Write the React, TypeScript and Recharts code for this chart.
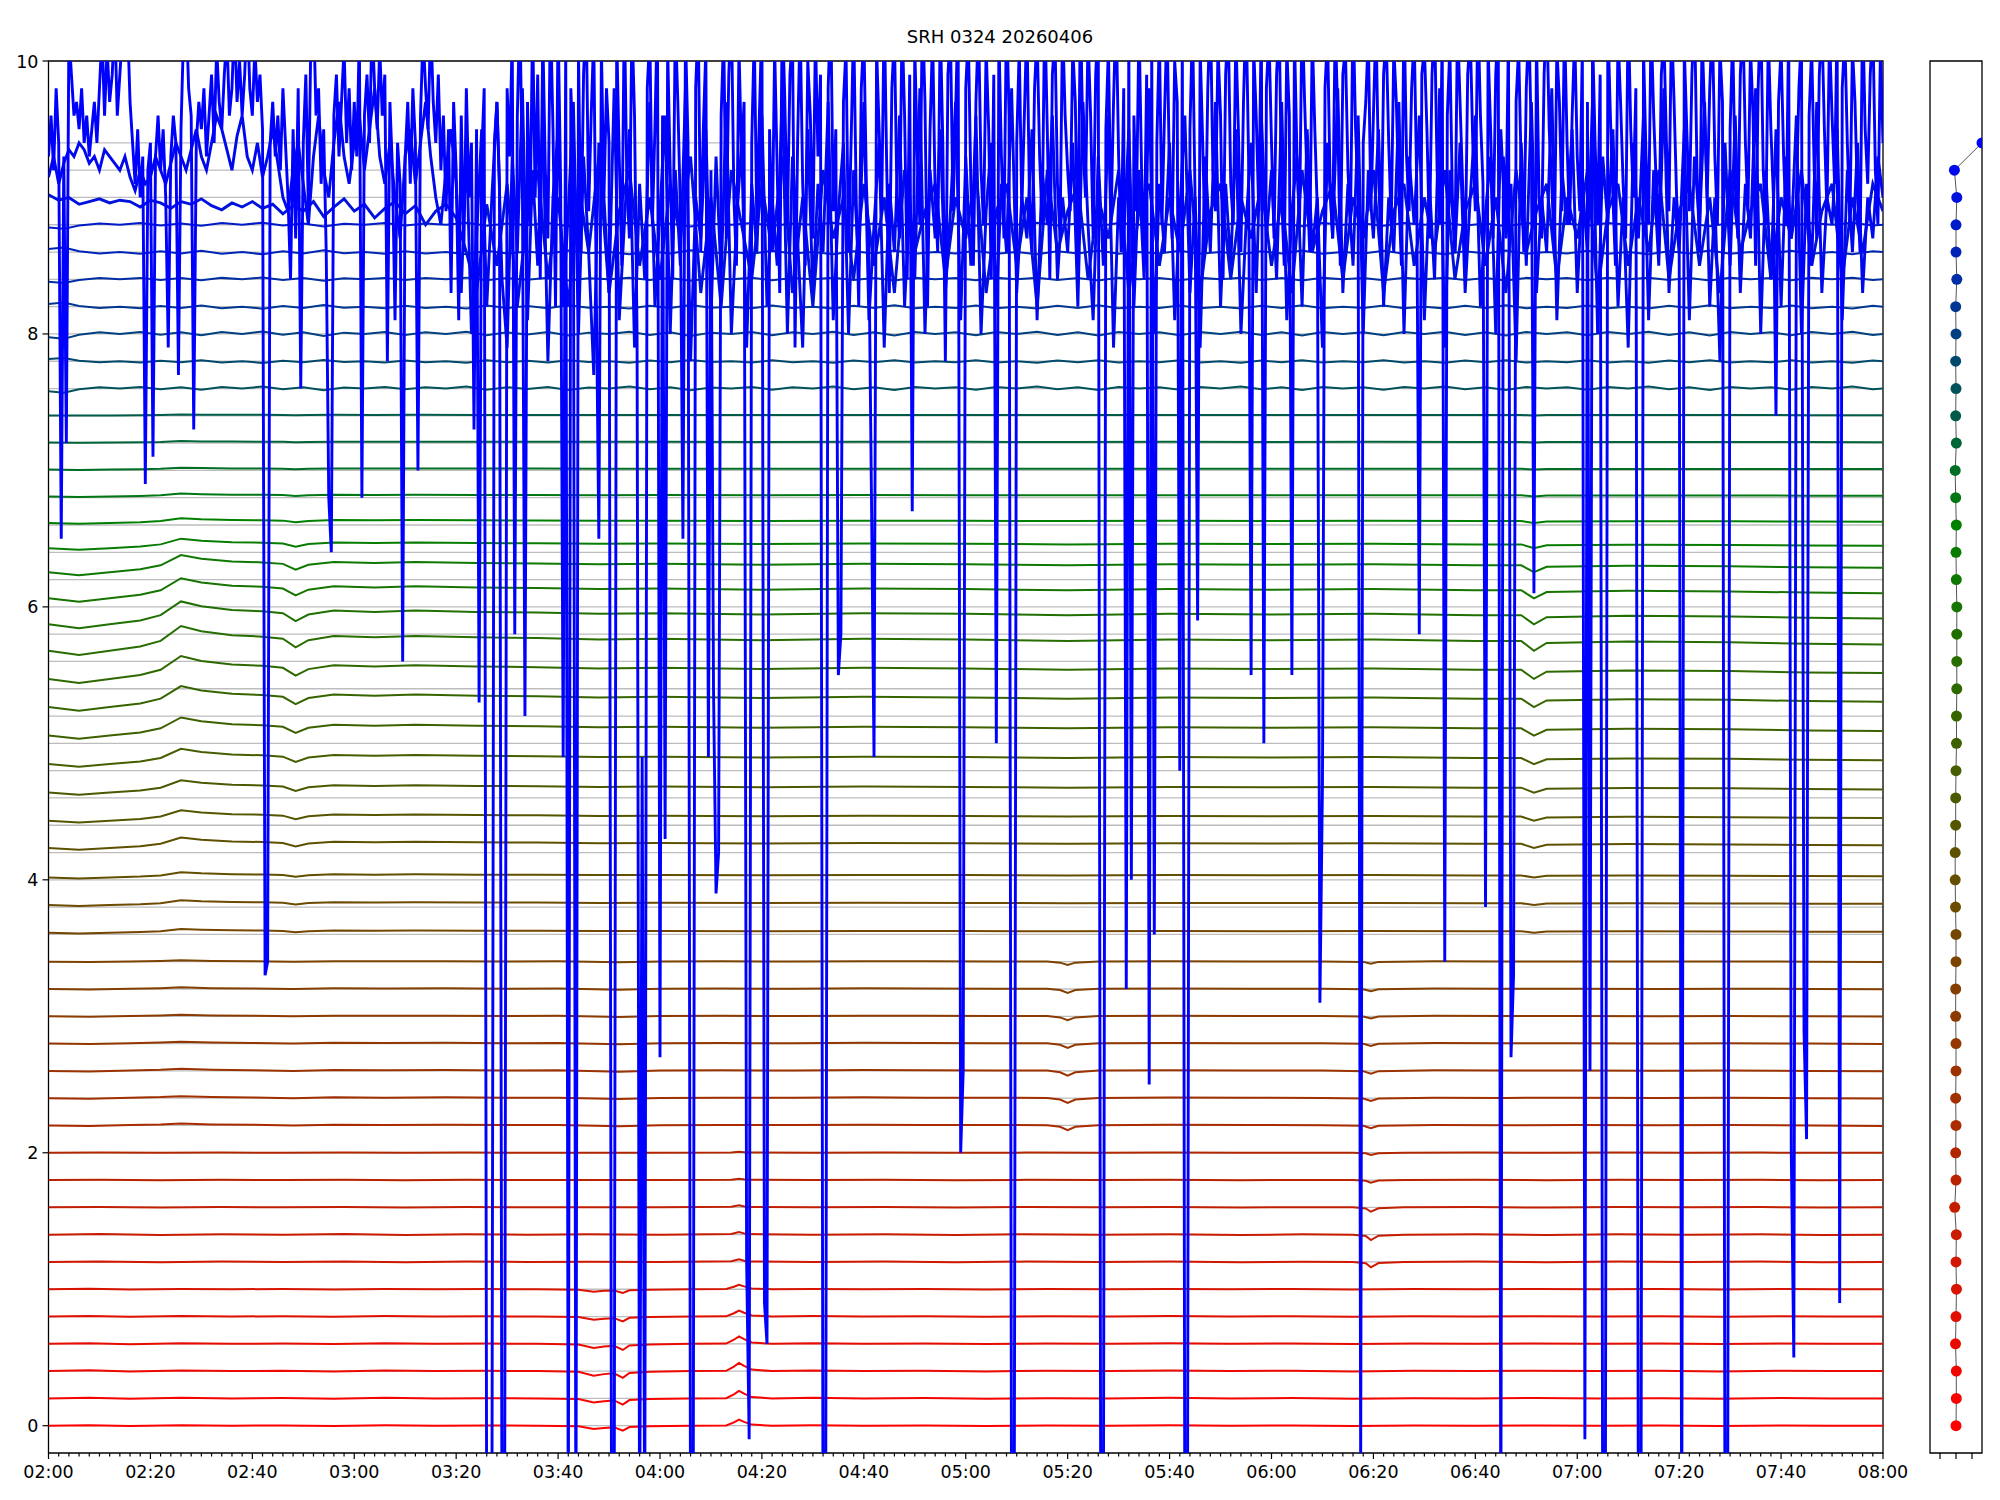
import React from 'react';
import { LineChart, Line, XAxis, YAxis, CartesianGrid, ReferenceArea } from 'recharts';

const chartTitle = 'SRH 0324 20260406';

// x axis: minutes after 02:00
const majorTicks = [0, 20, 40, 60, 80, 100, 120, 140, 160, 180, 200, 220, 240, 260, 280, 300, 320, 340, 360];
const majorLabels = ['02:00', '02:20', '02:40', '03:00', '03:20', '03:40', '04:00', '04:20', '04:40', '05:00',
  '05:20', '05:40', '06:00', '06:20', '06:40', '07:00', '07:20', '07:40', '08:00'];
const yTicks = [0, 2, 4, 6, 8, 10];

// one trace per 0.2 step
const traceOffsets = [0, 0.2, 0.4, 0.6, 0.8, 1.0, 1.2, 1.4, 1.6, 1.8, 2.0, 2.2, 2.4, 2.6, 2.8, 3.0, 3.2, 3.4,
  3.6, 3.8, 4.0, 4.2, 4.4, 4.6, 4.8, 5.0, 5.2, 5.4, 5.6, 5.8, 6.0, 6.2, 6.4, 6.6, 6.8, 7.0, 7.2, 7.4,
  7.6, 7.8, 8.0, 8.2, 8.4, 8.6, 8.8, 9.0, 9.2, 9.4];

const traceColors = ['#ff0000', '#f70400', '#ef0800', '#e80c00', '#e00f00', '#d81300', '#d11700', '#c91b00',
  '#c11f00', '#b92300', '#b22700', '#aa2b00', '#a22f00', '#9b3200', '#933600', '#8b3a00', '#833e00', '#7c4200',
  '#744600', '#6c4a00', '#644e00', '#5d5100', '#555500', '#4d5900', '#465d00', '#3e6100', '#366500', '#2e6900',
  '#276d00', '#1f7000', '#177400', '#0f7800', '#087c00', '#008000', '#007712', '#006e24', '#006537', '#005b49',
  '#00525b', '#00496d', '#004080', '#003792', '#002ea4', '#0025b6', '#001bc8', '#0012db', '#0009ed', '#0000ff'];

// which shape each trace follows, and how strongly
const traceBand = ['low', 'low', 'low', 'low', 'low', 'low',
  'lowMid', 'lowMid', 'lowMid', 'lowMid', 'lowMid',
  'mid', 'mid', 'mid', 'mid', 'mid', 'mid', 'mid',
  'drift', 'drift', 'drift', 'drift', 'drift', 'drift', 'drift', 'drift', 'drift', 'drift',
  'drift', 'drift', 'drift', 'drift', 'drift', 'drift', 'drift', 'drift', 'drift', 'drift',
  'top', 'top', 'top', 'top', 'top', 'top', 'top',
  'n90', 'n92', 'n94'];
const bandAmp = [0.8, 1, 1.1, 1, 0.8, 0.6,
  1, 1, 0.8, 0.5, 0.4,
  1, 1, 1, 0.9, 0.8, 0.8, 0.7,
  0.04, 0.05, 0.056, 0.11, 0.11, 0.13, 0.16, 0.19, 0.22, 0.24,
  0.26, 0.24, 0.21, 0.18, 0.1, 0.05, 0.03, 0.02, 0.015, 0.01,
  1, -0.8, 1.2, -1, 0.9, -1.1, 1,
  1, 1, 1];

// [minute, deviation]
const lowShape = [[0, 0], [8, 0.005], [16, -0.003], [26, 0.004], [36, 0], [46, 0.003], [56, -0.002], [66, 0.004],
  [76, 0], [86, 0.002], [96, 0], [104, -0.005], [107, -0.03], [109, -0.02], [111, -0.015], [112.7, -0.045],
  [114, -0.012], [118, -0.005], [126, 0], [133, 0.002], [134.5, 0.03], [135.5, 0.055], [136.5, 0.035], [138, 0.01],
  [142, 0], [150, 0.004], [160, 0], [172, 0.003], [184, -0.002], [196, 0.002], [208, 0], [220, 0.004], [232, 0],
  [244, 0.003], [256, -0.002], [268, 0.002], [280, 0], [292, 0.003], [304, 0], [316, 0.002], [328, -0.002],
  [340, 0.003], [350, 0], [360, 0]];
const lowMidShape = [[0, 0], [10, 0.004], [22, -0.002], [34, 0.003], [46, 0], [58, 0.004], [70, -0.002], [82, 0.003],
  [94, 0], [106, 0.002], [120, 0], [134, 0.005], [135.5, 0.02], [137, 0.004], [150, 0], [164, 0.003], [178, -0.002],
  [192, 0.003], [206, 0], [220, 0.003], [234, -0.002], [246, 0.002], [256, 0], [258.5, -0.01], [259.5, -0.04],
  [261, -0.008], [266, 0], [280, 0.003], [294, -0.002], [308, 0.003], [322, 0], [336, 0.003], [348, -0.002], [360, 0]];
const midShape = [[0, 0], [8, -0.004], [16, 0.003], [22, 0.008], [26, 0.015], [32, 0.008], [40, 0.005], [48, 0],
  [56, 0.006], [66, 0.004], [78, 0.006], [90, 0.003], [100, 0.004], [112, -0.006], [120, 0.002], [132, 0.004],
  [146, 0.003], [160, 0.006], [172, 0.004], [186, 0.003], [196, 0.002], [198.5, -0.01], [200, -0.035],
  [201.5, -0.01], [206, 0.002], [220, 0.005], [236, 0.003], [250, 0.002], [258, -0.002], [259.5, -0.02],
  [261, -0.002], [272, 0.004], [286, 0.002], [300, 0.003], [316, 0.001], [330, 0.003], [346, 0], [360, -0.003]];
const driftShape = [[0, 0.3], [6, 0.18], [12, 0.3], [18, 0.42], [22, 0.58], [26, 1.0], [30, 0.85], [36, 0.74],
  [42, 0.7], [46, 0.64], [48.5, 0.4], [51, 0.6], [56, 0.72], [64, 0.68], [72, 0.72], [84, 0.68], [96, 0.66],
  [108, 0.62], [120, 0.64], [140, 0.6], [160, 0.64], [180, 0.62], [200, 0.58], [220, 0.62], [240, 0.6],
  [260, 0.62], [280, 0.58], [289, 0.58], [291.5, 0.3], [294, 0.52], [310, 0.56], [330, 0.54], [345, 0.5], [360, 0.48]];
const topWiggle = [[0, -0.02], [3, -0.03], [6, -0.005], [10, 0.01], [14, 0], [18, 0.012], [22, -0.005], [26, 0.01],
  [30, -0.008], [34, 0.012], [38, 0], [42, 0.015], [46, -0.005], [50, 0.01], [54, -0.012], [58, 0.008], [62, 0],
  [66, 0.012], [70, -0.006], [74, 0.01], [78, 0], [82, 0.014], [86, -0.008], [90, 0.01], [94, -0.004], [98, 0.012],
  [102, -0.01], [106, 0.008], [110, 0], [114, 0.014], [118, -0.006], [122, 0.01], [126, -0.012], [130, 0.008],
  [134, 0], [138, 0.012], [142, -0.008], [146, 0.01], [150, 0], [154, 0.014], [158, -0.006], [162, 0.01],
  [166, -0.01], [170, 0.012], [174, 0], [178, 0.01], [182, -0.008], [186, 0.012], [190, 0], [194, 0.014],
  [198, -0.006], [202, 0.01], [206, -0.01], [210, 0.012], [214, 0], [218, 0.01], [222, -0.008], [226, 0.012],
  [230, 0], [234, 0.014], [238, -0.006], [242, 0.01], [246, -0.01], [250, 0.012], [254, 0], [258, 0.01],
  [262, -0.008], [266, 0.012], [270, 0], [274, 0.014], [278, -0.006], [282, 0.01], [286, -0.01], [290, 0.012],
  [294, 0], [298, 0.01], [302, -0.008], [306, 0.012], [310, 0], [314, 0.014], [318, -0.006], [322, 0.01],
  [326, -0.01], [330, 0.012], [334, 0], [338, 0.01], [342, -0.008], [346, 0.012], [350, 0], [354, 0.014],
  [358, -0.006], [360, 0]];

// trace 9.0, one value every 2 min
const noise90 = [
  9.02, 8.98, 9.0, 8.95, 8.97, 8.99, 8.96, 8.98, 8.97, 8.93, 8.98, 8.96, 8.92, 8.97, 8.95, 8.99, 8.94, 8.91, 8.96, 8.93,
  8.97, 8.92, 8.95, 8.88, 8.94, 8.9, 8.97, 8.86, 8.93, 8.99, 8.9, 8.95, 8.85, 8.92, 8.97, 8.88, 8.94, 8.8, 8.9, 8.95,
  8.85, 8.6, 8.3, 8.95, 8.5, 9.1, 8.2, 8.9, 9.2, 8.4, 9.0, 8.2, 9.1, 8.6, 9.3, 8.3, 8.9, 9.2, 8.5, 9.0,
  8.4, 9.1, 8.7, 9.3, 8.3, 9.0, 8.2, 9.2, 8.8, 8.4, 9.1, 8.6, 9.3, 8.3, 9.0, 8.2, 9.2, 8.7, 9.0, 8.4,
  9.1, 8.5, 9.0, 8.3, 9.2, 8.6, 8.9, 9.1, 8.4, 9.0, 8.7, 9.2, 8.3, 8.9, 9.1, 8.5, 9.0, 8.2, 9.2, 8.6,
  8.9, 9.1, 8.4, 9.0, 8.7, 9.2, 8.3, 8.9, 9.1, 8.5, 9.0, 8.6, 9.2, 8.3, 8.9, 9.1, 8.4, 9.0, 8.7, 9.1,
  8.5, 9.0, 8.3, 9.2, 8.6, 8.9, 9.1, 8.4, 9.0, 8.7, 9.2, 8.3, 8.9, 9.1, 8.5, 9.0, 8.6, 9.2, 8.4, 8.9,
  9.1, 8.5, 9.0, 8.3, 9.2, 8.6, 8.9, 9.1, 8.4, 9.0, 8.7, 9.2, 8.3, 8.9, 9.1, 8.5, 9.0, 8.6, 9.2, 8.4,
  8.9, 9.1, 8.5, 9.0, 8.3, 9.2, 8.6, 8.9, 9.1, 8.4, 9.0, 8.7, 9.2, 8.5, 8.9, 9.1, 8.4, 9.0, 8.6, 9.1,
  8.9];
const noise90Step = 2;

// trace 9.2, one value every minute
const noise92 = [
  9.15, 9.3, 9.1, 9.25, 9.35, 9.3, 9.4, 9.35, 9.25, 9.3, 9.2, 9.35, 9.3, 9.25, 9.2, 9.3, 9.15, 9.05, 9.2, 9.1,
  9.15, 9.3, 9.2, 9.1, 9.25, 9.4, 9.3, 9.2, 9.35, 9.5, 9.3, 9.2, 9.4, 9.6, 9.5, 9.35, 9.2, 9.45, 9.6, 9.3,
  9.2, 9.4, 9.15, 9.3, 9.5, 9.25, 9.0, 8.9, 9.2, 9.4, 9.1, 8.8, 9.3, 9.6, 9.2, 9.0, 9.4, 9.7, 9.3, 9.1,
  9.4, 9.6, 9.2, 9.5, 9.8, 9.3, 9.1, 9.4, 9.0, 8.7, 9.3, 9.5, 9.1, 9.4, 9.7, 9.3, 9.0, 8.8, 9.2, 9.5,
  9.1, 8.3, 9.4, 8.0, 8.7, 9.5, 8.2, 9.0, 9.7, 8.4, 7.9, 9.3, 8.6, 9.8, 8.1, 9.2, 8.5, 9.6, 7.8, 9.0,
  9.5, 8.2, 8.9, 9.7, 8.0, 9.3, 8.6, 7.7, 9.4, 9.0, 8.3, 9.8, 8.1, 8.8, 9.5, 7.9, 9.1, 8.4, 9.7, 8.2,
  8.9, 9.6, 8.0, 9.2, 8.5, 9.8, 7.8, 9.0, 8.7, 9.5, 8.1, 9.3, 8.4, 9.7, 8.0, 8.8, 9.4, 7.9, 9.1, 8.6,
  9.6, 8.2, 9.0, 8.5, 9.8, 8.0, 9.3, 8.7, 7.9, 9.5, 8.3, 9.1, 8.6, 9.7, 8.1, 8.9, 9.4, 8.0, 9.2, 8.5,
  9.7, 8.1, 8.8, 9.4, 7.9, 9.1, 8.6, 9.6, 8.2, 9.0, 8.4, 9.8, 8.0, 9.2, 8.7, 9.5, 8.3, 8.9, 9.7, 8.1,
  9.3, 8.5, 9.6, 8.0, 8.9, 9.4, 8.2, 9.1, 8.6, 9.8, 8.3, 9.0, 8.7, 9.5, 8.1, 9.2, 8.8, 9.6, 8.4, 9.0,
  8.6, 9.4, 8.2, 9.7, 8.8, 8.1, 9.3, 8.5, 9.6, 7.9, 9.0, 8.7, 9.5, 8.2, 9.2, 8.4, 9.8, 8.0, 9.1, 8.6,
  9.4, 8.1, 8.9, 9.6, 8.3, 9.0, 7.9, 9.3, 8.6, 9.7, 8.2, 9.1, 8.5, 9.5, 8.0, 8.8, 9.4, 8.3, 9.6, 8.7,
  9.2, 8.4, 9.7, 8.1, 8.9, 9.3, 8.2, 9.5, 8.6, 9.0, 7.9, 9.4, 8.7, 9.8, 8.3, 9.1, 8.5, 9.6, 8.0, 9.2,
  8.7, 9.5, 8.2, 9.0, 8.6, 9.7, 8.0, 9.3, 8.8, 9.6, 8.1, 9.1, 8.4, 9.8, 7.9, 9.2, 8.6, 9.4, 8.3, 9.0,
  9.6, 8.2, 8.9, 9.3, 8.0, 9.5, 8.7, 9.1, 7.8, 9.4, 8.5, 9.7, 8.3, 9.0, 8.6, 9.8, 8.1, 9.2, 8.8, 9.5,
  8.3, 9.1, 8.6, 9.7, 8.0, 9.3, 8.8, 9.5, 8.2, 9.0, 7.9, 9.4, 8.7, 9.6, 8.1, 9.2, 8.5, 9.8, 8.3, 9.0,
  8.6, 9.5, 8.1, 9.3, 8.8, 9.7, 8.2, 9.0, 7.8, 9.4, 8.5, 9.6, 8.3, 9.1, 8.7, 9.8, 8.0, 9.2, 8.4, 9.5,
  8.2, 9.3, 8.7, 9.6, 8.0, 9.1, 8.5, 9.7, 8.3, 9.0, 8.8, 9.5, 8.1, 9.2, 8.6, 9.4, 8.3, 9.0, 8.7, 9.3,
  9.0];
const noise92Step = 1;

// trace 9.4, one value every half minute (drop-outs go below the axis)
const noise94 = [
  9.3, 9.6, 9.2, 9.8, 9.4, 6.5, 9.3, 7.2, 10.2, 9.9, 9.6, 9.7, 9.5, 9.8, 9.4, 9.6, 9.3, 9.5, 9.7, 9.4,
  9.8, 10.2, 9.6, 10.1, 9.7, 9.9, 10.3, 9.6, 9.9, 10.2, 10.4, 10.3, 9.7, 9.4, 9.1, 9.5, 9.0, 9.3, 6.9, 9.2,
  9.4, 7.1, 9.3, 9.6, 9.2, 9.5, 9.0, 7.9, 9.3, 9.6, 9.4, 7.7, 9.5, 10.2, 10.4, 9.8, 9.6, 7.3, 9.4, 9.7,
  9.5, 9.8, 9.3, 9.6, 9.9, 9.4, 10.1, 9.7, 9.5, 9.9, 10.2, 9.6, 9.8, 10.3, 9.7, 10.0, 9.6, 9.9, 10.4, 9.8,
  9.6, 10.1, 9.7, 9.9, 9.5, 3.3, 3.4, 9.4, 9.7, 9.3, 9.6, 9.2, 9.8, 9.4, 9.0, 8.4, 9.5, 8.7, 9.8, 7.6,
  9.4, 9.9, 8.9, 10.2, 10.4, 9.6, 9.8, 9.1, 9.5, 8.6, 6.8, 6.4, 9.6, 9.9, 9.3, 9.7, 10.1, 9.4, 9.8, 9.2,
  9.7, 9.3, 10.2, 6.8, 9.6, 9.9, 9.4, 10.3, 9.8, 9.5, 10.1, 9.6, 9.9, 7.8, 9.7, 9.2, 8.1, 9.4, 9.1, 5.6,
  9.3, 9.7, 9.1, 9.8, 9.4, 7.0, 9.6, 10.2, 9.8, 9.5, 10.3, 9.7, 9.4, 9.9, 9.2, 9.6, 8.9, 9.5, 8.3, 9.7,
  9.2, 8.1, 9.6, 8.6, 9.8, 9.0, 9.4, 7.3, 9.5, 5.3, 9.3, 9.8, -1, -1, -1, 9.4, 9.7, 9.1, -1, -1,
  9.8, 9.3, 10.2, 5.8, 9.6, 10.4, 9.1, 5.2, 9.7, 8.8, 10.3, 9.0, 9.9, 8.4, 10.2, 9.2, 8.7, 10.4, 9.5, 8.2,
  10.3, 9.1, 4.9, 10.2, -1, 9.8, 9.3, -1, 10.1, 8.6, 9.9, 10.4, 8.9, 9.6, 10.2, 8.3, 6.5, 10.1, 9.0, 9.8,
  9.4, -1, -1, 10.2, 9.3, 8.5, 10.4, 9.1, 8.7, 10.3, 9.6, 8.0, -1, 4.9, -1, 9.8, 10.2, 8.8, 9.5, 10.4,
  2.7, 9.6, 4.3, 10.1, 9.2, 8.4, 10.3, 9.7, 8.9, 6.5, 10.2, 9.4, -1, -1, 9.8, 10.3, 8.6, 9.5, 10.1, 4.9,
  9.2, 5.4, 3.9, 4.2, 9.6, 10.2, 8.7, 9.9, 10.4, 9.0, 8.5, 10.1, 9.3, 9.7, 1.2, -0.1, 9.4, 10.2, 8.8, 9.6,
  10.3, 0.9, 0.6, 9.5, 8.6, 10.1, 9.2, 8.3, 10.4, 9.7, 8.8, 9.9, 10.2, 7.9, 9.4, 10.3, 9.1, 8.5, 10.0, 9.6,
  8.7, 10.2, 9.3, 9.9, -1, -1, 9.8, 10.4, 8.9, 9.5, 5.5, 5.8, 9.7, 10.1, 8.6, 9.4, 10.3, 9.0, 8.2, 9.8,
  10.2, 9.1, 8.6, 6.8, 4.9, 10.1, 9.5, 8.9, 10.4, 9.2, 8.3, 9.8, 10.2, 9.0, 8.7, 10.3, 9.6, 8.4, 9.9, 6.7,
  10.1, 9.3, 8.8, 10.4, 9.7, 8.2, 9.5, 10.2, 9.0, 8.6, 10.3, 9.4, 7.8, 9.9, 10.2, 8.9, 9.6, 10.4, 2.0, 2.6,
  9.8, 10.2, 9.1, 8.5, 9.7, 10.3, 9.2, 8.8, 10.1, 9.5, 8.4, 9.9, 5.0, 10.2, 9.3, 8.7, 10.4, 9.6, -1, -1,
  9.4, 10.1, 8.9, 9.6, 10.3, 9.0, 8.6, 9.8, 10.2, 9.3, 8.8, 10.4, 9.5, 8.4, 9.9, 10.2, 9.1, 8.7, 10.3, 9.6,
  9.2, 8.9, 10.1, 9.7, 8.5, 10.4, 9.4, 9.0, 10.2, 9.6, 8.7, 9.9, 10.3, -1, -1, 9.5, 10.1, 8.8, 9.7, 10.4,
  9.3, 8.6, 9.8, 3.2, 10.2, 4.0, 9.6, 8.9, 10.3, 9.2, 8.5, 9.9, 2.5, 10.1, 3.6, 9.4, 10.2, 8.8, 9.6, 10.3,
  9.1, 8.7, 10.0, 9.7, 4.8, 10.2, -1, -1, 9.5, 10.3, 9.0, 5.9, 10.1, 9.4, 8.6, 9.8, 10.4, 9.2, 8.9, 10.1,
  9.6, 8.4, 9.9, 10.3, 9.1, 8.8, 10.2, 9.5, 8.6, 9.7, 10.4, 9.3, 5.5, 10.1, 9.6, 8.9, 10.3, 5.0, 9.8, 10.2,
  9.4, 8.7, 9.9, 10.3, 9.0, 8.5, 10.1, 9.6, 5.5, 10.2, 9.3, 8.8, 10.4, 9.7, 9.1, 8.6, 10.2, 9.5, 8.9, 3.1,
  4.7, 9.8, 10.2, 9.1, 8.7, 10.3, 9.6, 8.5, 9.9, 10.1, 9.2, 8.8, 10.4, 9.5, 9.0, -0.3, 9.4, 9.7, 10.2, 8.9,
  9.6, 10.3, 9.2, 8.6, 9.9, 10.2, 9.4, 8.8, 10.1, 9.7, 9.0, 8.5, 10.4, 9.3, 8.9, 9.8, 10.2, 9.1, 5.8, 9.9,
  10.1, 9.5, 8.7, 9.9, 10.3, 9.2, 8.8, 10.2, 3.4, 9.6, 10.1, 9.0, 8.6, 10.3, 9.7, 9.1, 8.5, 9.9, 10.2, 9.4,
  8.9, 10.4, 9.6, 9.1, 3.8, 10.1, 9.5, 8.7, 9.9, 10.3, -1, 9.3, 8.8, 10.2, 2.7, 3.3, 9.7, 10.1, 9.2, 8.6,
  9.8, 10.3, 9.4, 6.1, 10.2, 9.0, 8.7, 9.9, 10.4, 9.5, 9.1, 8.6, 10.1, 9.7, 8.9, 10.3, 9.4, 8.8, 9.6, 10.2,
  9.3, 8.9, 10.1, -0.1, 9.7, 2.6, 10.2, 9.4, 8.8, 9.9, -1, -1, 10.3, 9.6, 9.0, 8.5, 10.2, 9.7, 9.1, 8.7,
  10.4, 9.5, 9.0, 9.8, -1, -1, 10.1, 9.3, 8.8, 10.3, 9.6, 9.1, 8.6, 9.9, 10.2, 9.4, 8.9, 10.3, 9.7, 9.0,
  8.7, -1, 10.1, 9.5, 8.9, 9.9, 10.4, 9.2, 8.6, 10.2, 9.6, 9.0, 9.8, 10.3, 9.3, 8.8, 10.1, 9.7, -1, -1,
  9.5, 10.2, 9.1, 8.7, 9.9, 10.3, 9.4, 8.9, 10.1, 9.6, 8.5, 9.8, 10.4, 9.2, 8.8, 10.2, 9.5, 9.0, 7.4, 9.7,
  10.1, 9.3, 8.8, 10.3, 2.0, 0.5, 9.0, 9.8, 10.2, 2.9, 2.1, 9.6, 10.1, 9.2, 8.7, 9.9, 10.3, 9.5, 8.9, 10.2,
  9.6, 9.1, 10.3, 0.9, 9.8, 10.2, 9.4, 8.8, 10.1, 9.7, 9.0, 8.6, 10.4, 9.5, 9.1, 9.9, 10.3, 9.2, 8.8, 10.1,
  9.4];
const noise94Step = 0.5;

// right-hand panel: one marker per trace
const legendX = [0, 0.02, 0.02, -0.03, 0, 0.03, 0, 0.02, -0.08, 0, -0.02, 0, -0.02, 0, 0, -0.02, -0.02, 0, 0,
  -0.03, -0.05, -0.05, -0.02, -0.02, 0, 0.03, 0.03, 0.05, 0.05, 0.05, 0.05, 0.02, 0, 0.02, -0.02, -0.05, 0.02,
  -0.02, 0, -0.02, 0, -0.02, 0.05, 0, 0, 0.05, -0.1, 1.625];

const bandShapes: Record<string, number[][]> = {
  low: lowShape,
  lowMid: lowMidShape,
  mid: midShape,
  drift: driftShape,
  top: topWiggle,
};
const noiseSeries: Record<string, { values: number[]; step: number }> = {
  n90: { values: noise90, step: noise90Step },
  n92: { values: noise92, step: noise92Step },
  n94: { values: noise94, step: noise94Step },
};

const traceData = traceOffsets.map((offset, i) => {
  const band = traceBand[i];
  const noise = noiseSeries[band];
  if (noise) return noise.values.map((v, k) => ({ t: k * noise.step, v }));
  return bandShapes[band].map(([t, d]) => ({ t, v: offset + bandAmp[i] * d }));
});

const legendData = traceOffsets.map((y, i) => ({ x: legendX[i], y }));

const minorTicks: number[] = [];
for (let m = 0; m <= 360; m += 2) minorTicks.push(m);

const FONT = 'DejaVu Sans';

const renderXTick = (props: any) => {
  const { x, y, payload } = props;
  const idx = majorTicks.indexOf(payload.value);
  const len = idx >= 0 ? 6 : 3.5;
  return (
    <g>
      <line x1={x} x2={x} y1={y} y2={y + len} stroke="#000" strokeWidth={1.2} />
      {idx >= 0 && (
        <text x={x} y={y + 25} textAnchor="middle" fontSize={17.5} fontFamily={FONT} fill="#000">
          {majorLabels[idx]}
        </text>
      )}
    </g>
  );
};

const renderYTick = (props: any) => {
  const { x, y, payload } = props;
  return (
    <g>
      <line x1={x - 6} x2={x} y1={y} y2={y} stroke="#000" strokeWidth={1.2} />
      <text x={x - 10} y={y + 6.5} textAnchor="end" fontSize={17.5} fontFamily={FONT} fill="#000">
        {String(payload.value)}
      </text>
    </g>
  );
};

const renderLegendYTick = (props: any) => {
  const { x, y } = props;
  return <line x1={x - 6} x2={x} y1={y} y2={y} stroke="#000" strokeWidth={1.2} />;
};

const renderLegendXTick = (props: any) => {
  const { x, y } = props;
  return <line x1={x} x2={x} y1={y} y2={y + 6} stroke="#000" strokeWidth={1.2} />;
};

const renderLegendDot = (props: any) => {
  const { cx, cy, index } = props;
  return <circle key={`d${index}`} cx={cx} cy={cy} r={5.5} fill={traceColors[index]} stroke="none" />;
};

export default function App() {
  return (
    <div style={{ position: 'absolute', left: 0, top: 0, width: 2000, height: 1500, background: '#fff' }}>
      <div style={{ position: 'absolute', left: 0, top: 26, width: 2000, textAlign: 'center', fontFamily: FONT, fontSize: 18, color: '#000' }}>
        {chartTitle}
      </div>
      <div style={{ position: 'absolute', left: 0, top: 0 }}>
        <LineChart width={1930} height={1500} margin={{ top: 61, right: 47, bottom: 0, left: 0 }}>
          <CartesianGrid vertical={false} horizontalValues={traceOffsets} stroke="#bdbdbd" strokeWidth={1.3} />
          <XAxis type="number" dataKey="t" domain={[0, 360]} ticks={minorTicks} interval={0} allowDataOverflow
            height={47} tickSize={0} tickMargin={0} tickLine={false} axisLine={false} tick={renderXTick} />
          <YAxis type="number" domain={[-0.2, 10]} ticks={yTicks} interval={0} allowDataOverflow
            width={48.5} tickSize={0} tickMargin={0} tickLine={false} axisLine={false} tick={renderYTick} />
          {traceData.map((data, i) => (
            <Line key={i} data={data} dataKey="v" type="linear" stroke={traceColors[i]}
              strokeWidth={i >= 45 ? 2.9 : 2} dot={false} activeDot={false} isAnimationActive={false} />
          ))}
          <ReferenceArea x1={0} x2={360} y1={-0.2} y2={10} fill="none" fillOpacity={0} stroke="#000"
            strokeWidth={1.3} ifOverflow="visible" />
        </LineChart>
      </div>
      <div style={{ position: 'absolute', left: 1900, top: 0 }}>
        <LineChart width={100} height={1500} margin={{ top: 61, right: 18, bottom: 0, left: 30 }}>
          <XAxis type="number" dataKey="x" domain={[-1.625, 1.625]} ticks={[-1, 0, 1]} interval={0} allowDataOverflow
            height={47} tickSize={0} tickMargin={0} tickLine={false} axisLine={false} tick={renderLegendXTick} />
          <YAxis type="number" dataKey="y" domain={[-0.2, 10]} ticks={yTicks} interval={0} allowDataOverflow
            width={0} tickSize={0} tickMargin={0} tickLine={false} axisLine={false} tick={renderLegendYTick} />
          <Line data={legendData} dataKey="y" type="linear" stroke="#555" strokeWidth={1}
            dot={renderLegendDot} activeDot={false} isAnimationActive={false} />
          <ReferenceArea x1={-1.625} x2={1.625} y1={-0.2} y2={10} fill="none" fillOpacity={0} stroke="#000"
            strokeWidth={1.3} ifOverflow="visible" />
        </LineChart>
      </div>
    </div>
  );
}
